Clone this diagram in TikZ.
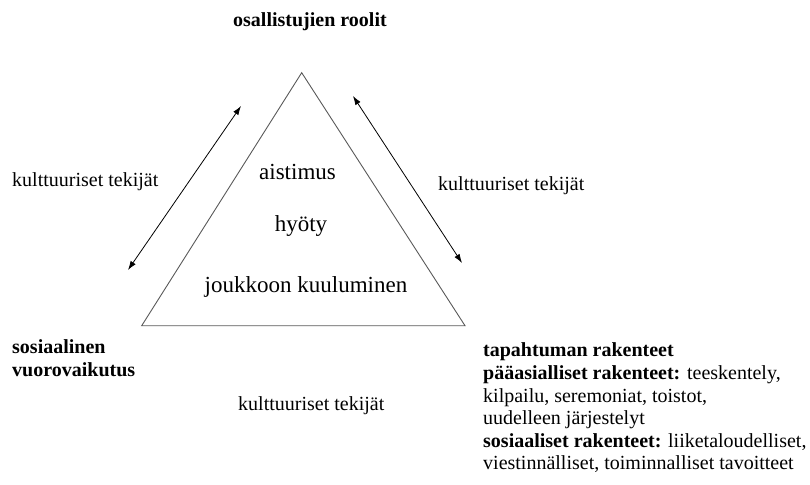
\documentclass[tikz,border=0pt]{standalone}
\usepackage{fontspec}
\setmainfont{Liberation Serif}
\usetikzlibrary{arrows.meta}

\tikzset{
  label20/.style={inner sep=0pt, anchor=base west, font=\fontsize{20}{23}\selectfont},
  inner23/.style={inner sep=0pt, anchor=base, font=\fontsize{23}{26}\selectfont},
  edge/.style={draw=black!65, line width=0.9pt},
  twoway/.style={draw=black, line width=0.8pt,
    {Latex[length=9pt,width=6pt]}-{Latex[length=9pt,width=6pt]}},
}

\begin{document}
\begin{tikzpicture}[x=1pt, y=-1pt]
  \useasboundingbox (0,0) rectangle (810,484);

  % triangle
  \coordinate (apex) at (301.7,72.7);
  \coordinate (bl) at (141.7,325.7);
  \coordinate (br) at (465,325.7);
  \draw[edge] (apex) -- (bl) -- (br) -- cycle;

  % texts inside the triangle
  \node[inner23] (aist) at (297.5,179) {aistimus};
  \node[inner23] (hyoty) at (301,231) {hyöty};
  \node[inner23] (jouk) at (306,292) {joukkoon kuuluminen};

  % corner labels
  \node[label20] (roles) at (233,27) {\bfseries osallistujien roolit};
  \node[label20] (soc1) at (12,353) {\bfseries sosiaalinen};
  \node[label20] (soc2) at (12,376) {\bfseries vuorovaikutus};

  \node[label20] (r1) at (483,356) {\bfseries tapahtuman rakenteet};
  \node[label20] (r2) at (483,379) {\textbf{pääasialliset rakenteet:} teeskentely,};
  \node[label20] (r3) at (483,402) {kilpailu, seremoniat, toistot,};
  \node[label20] (r4) at (483,424.5) {uudelleen järjestelyt};
  \node[label20] (r5) at (483,447) {\textbf{sosiaaliset rakenteet:} liiketaloudelliset,};
  \node[label20] (r6) at (483,469.5) {viestinnälliset, toiminnalliset tavoitteet};

  % side labels
  \node[label20] (kL) at (12,186) {kulttuuriset tekijät};
  \node[label20] (kR) at (438,190.5) {kulttuuriset tekijät};
  \node[label20] (kB) at (238,410.5) {kulttuuriset tekijät};

  % double-headed arrows along the sides
  \coordinate (la) at (128,270);
  \coordinate (lb) at (241,106);
  \coordinate (ra) at (353,96);
  \coordinate (rb) at (462,263);
  \draw[twoway] (la) -- (lb);
  \draw[twoway] (ra) -- (rb);
\end{tikzpicture}
\end{document}
